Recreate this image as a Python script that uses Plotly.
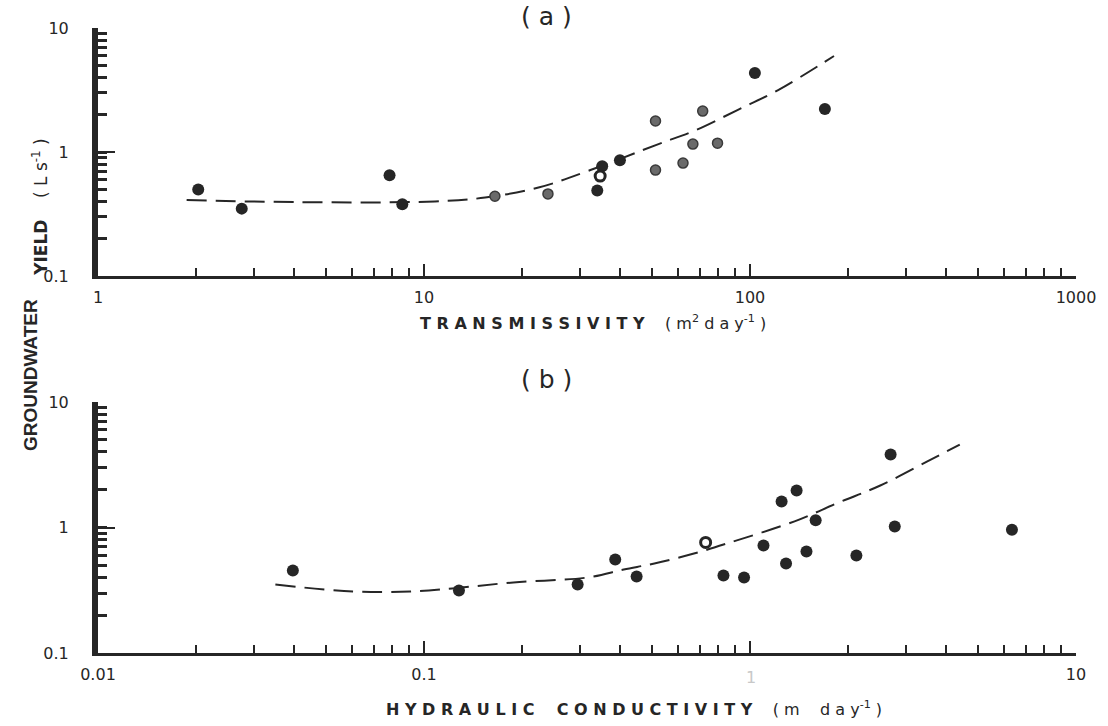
import plotly.graph_objects as go

# ---- Panel (a): yield vs transmissivity ----
a_dark_T = [2.03, 2.76, 7.84, 8.58, 34.0, 35.2, 39.9, 103.5, 169.7]
a_dark_Y = [0.50, 0.35, 0.65, 0.38, 0.49, 0.77, 0.86, 4.34, 2.22]
a_grey_T = [16.5, 24.0, 51.3, 51.3, 62.3, 66.8, 79.5, 71.6]
a_grey_Y = [0.44, 0.46, 1.78, 0.716, 0.815, 1.16, 1.18, 2.14]
a_open_T = [34.7]
a_open_Y = [0.64]
a_fit_T = [1.87, 4.08, 10.8, 15.4, 22.6, 32.4, 52.4, 67.3, 91.5, 122, 181]
a_fit_Y = [0.41, 0.395, 0.40, 0.43, 0.52, 0.716, 1.16, 1.48, 2.18, 3.16, 5.95]

# ---- Panel (b): yield vs hydraulic conductivity ----
b_dark_K = [0.0396, 0.128, 0.296, 0.386, 0.449, 0.829, 0.959, 1.10, 1.25, 1.39,
            1.59, 1.29, 1.49, 2.12, 2.70, 2.78, 6.36]
b_dark_Y = [0.454, 0.315, 0.351, 0.556, 0.407, 0.415, 0.40, 0.72, 1.61, 1.97,
            1.14, 0.517, 0.644, 0.598, 3.82, 1.02, 0.96]
b_open_K = [0.731]
b_open_Y = [0.76]
b_fit_K = [0.035, 0.0605, 0.0908, 0.122, 0.188, 0.318, 0.41, 0.509, 0.673, 0.87,
           1.37, 1.87, 2.51, 3.50, 4.40]
b_fit_Y = [0.351, 0.309, 0.309, 0.327, 0.365, 0.40, 0.463, 0.517, 0.62, 0.76,
           1.12, 1.58, 2.16, 3.36, 4.58]

a_xticks = [1, 10, 100, 1000]
a_xtext = ["1", "10", "100", "1000"]
b_xticks = [0.01, 0.1, 1, 10]
b_xtext = ["0.01", "0.1", " ", "10"]
y_ticks = [0.1, 1, 10]
y_text = ["0.1", "1", "10"]

INK = "#262626"
FONT = "DejaVu Sans"

fig = go.Figure()

def add_panel(xa, ya, dark_x, dark_y, fit_x, fit_y, open_x, open_y, grey_x=None, grey_y=None):
    fig.add_trace(go.Scatter(x=fit_x, y=fit_y, mode="lines", xaxis=xa, yaxis=ya,
                             line=dict(color=INK, width=2, dash="20px,9px", shape="spline"),
                             showlegend=False, hoverinfo="skip"))
    if grey_x:
        fig.add_trace(go.Scatter(x=grey_x, y=grey_y, mode="markers", xaxis=xa, yaxis=ya,
                                 marker=dict(size=10, color="#6a6a6a",
                                             line=dict(color="#3a3a3a", width=1.5)),
                                 showlegend=False))
    fig.add_trace(go.Scatter(x=dark_x, y=dark_y, mode="markers", xaxis=xa, yaxis=ya,
                             marker=dict(size=12, color=INK), showlegend=False))
    fig.add_trace(go.Scatter(x=open_x, y=open_y, mode="markers", xaxis=xa, yaxis=ya,
                             marker=dict(size=10, color="white", line=dict(color=INK, width=3)),
                             showlegend=False))

add_panel("x", "y", a_dark_T, a_dark_Y, a_fit_T, a_fit_Y, a_open_T, a_open_Y, a_grey_T, a_grey_Y)
add_panel("x2", "y2", b_dark_K, b_dark_Y, b_fit_K, b_fit_Y, b_open_K, b_open_Y)

common_x = dict(type="log", showgrid=False, zeroline=False, showline=True,
                linecolor=INK, linewidth=3, ticks="inside", ticklen=12, tickwidth=2,
                tickcolor=INK, tickmode="array",
                minor=dict(ticks="inside", ticklen=8, tickwidth=2, tickcolor=INK, dtick="D1"),
                tickfont=dict(family=FONT, size=16, color=INK), ticklabelstandoff=5)
common_y = dict(type="log", showgrid=False, zeroline=False, showline=True,
                linecolor=INK, linewidth=6, ticks="inside", ticklen=17, tickwidth=2,
                tickcolor=INK, tickmode="array", tickvals=y_ticks, ticktext=y_text,
                range=[-1, 1],
                minor=dict(ticks="inside", ticklen=9, tickwidth=2.5, tickcolor=INK, dtick="D1"),
                tickfont=dict(family=FONT, size=16, color=INK), ticklabelstandoff=20)

fig.update_layout(
    width=1108, height=726,
    margin=dict(l=98, r=18, t=28, b=73),
    paper_bgcolor="white", plot_bgcolor="white",
    xaxis=dict(common_x, domain=[0, 1], anchor="y", range=[0, 3],
               tickvals=a_xticks, ticktext=a_xtext),
    yaxis=dict(common_y, domain=[0.603, 1], anchor="x"),
    xaxis2=dict(common_x, domain=[0, 1], anchor="y2", range=[-2, 1],
                tickvals=b_xticks, ticktext=b_xtext),
    yaxis2=dict(common_y, domain=[0, 0.4016], anchor="x2"),
)

ann = []
ann.append(dict(text="( a )", x=553, y=17, font=dict(family=FONT, size=25, color=INK)))
ann.append(dict(text="( b )", x=553, y=379, font=dict(family=FONT, size=25, color=INK)))
ann.append(dict(text="<b>T R A N S M I S S I V I T Y</b>    ( m<sup>2</sup> d a y<sup>-1</sup> )",
                x=600, y=322, font=dict(family=FONT, size=16, color=INK)))
ann.append(dict(text="<b>H Y D R A U L I C    C O N D U C T I V I T Y</b>    ( m    d a y<sup>-1</sup> )",
                x=642, y=709, font=dict(family=FONT, size=16, color=INK)))
ann.append(dict(text="1", x=760, y=677, font=dict(family=FONT, size=16, color="#c8c8c8")))
ann.append(dict(text="<b>YIELD</b>    ( L s<sup>-1</sup> )", x=39, y=207, textangle=-90,
                font=dict(family=FONT, size=17, color=INK)))
ann.append(dict(text="<b>GROUNDWATER</b>", x=29, y=375, textangle=-90,
                font=dict(family="Liberation Sans", size=19, color=INK)))

for a in ann:
    a.update(xref="paper", yref="paper", showarrow=False,
             xanchor="center", yanchor="middle")
    a["x"] = (a["x"] - 98) / (1108 - 98 - 18)
    a["y"] = (726 - 73 - a["y"]) / (726 - 28 - 73)
fig.update_layout(annotations=ann)

fig.write_html("out.html")
